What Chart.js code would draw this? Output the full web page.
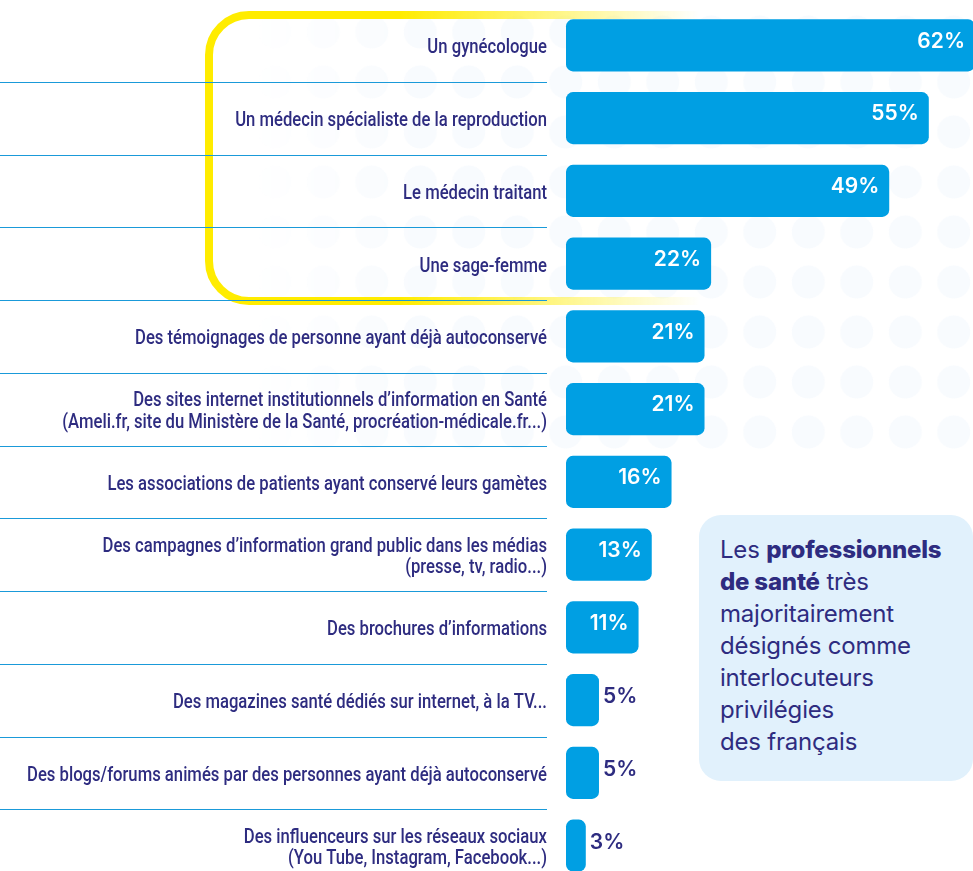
<!DOCTYPE html>
<html lang="fr">
<head>
<meta charset="utf-8">
<script src="https://cdn.jsdelivr.net/npm/chart.js@4/dist/chart.umd.min.js"></script>
<style>
  html, body { margin: 0; padding: 0; background: #ffffff; overflow: hidden; }
  #wrap { position: relative; width: 973px; height: 890px; }
  #dots {
    position: absolute; left: 0; top: 0; width: 973px; height: 460px;
    background-image: radial-gradient(circle, #f8fbfe 16px, rgba(255,255,255,0) 17px);
    background-size: 48.5px 50px;
    background-position: 8px 7px;
    -webkit-mask-image: linear-gradient(to right, rgba(0,0,0,0) 250px, #000 420px);
    mask-image: linear-gradient(to right, rgba(0,0,0,0) 250px, #000 420px);
  }
  #chart { position: relative; }
  #callout {
    position: absolute; left: 699px; top: 515px; width: 274px; height: 266px;
    background: #e1f1fc; border-radius: 22px; box-sizing: border-box;
    padding: 19px 0 0 21px;
    font-family: Inter, sans-serif; font-size: 24px; line-height: 32px; color: #2e2c80;
    letter-spacing: -0.2px;
  }
  #callout b { font-weight: 800; }
</style>
</head>
<body>
<div id="wrap">
  <div id="dots"></div>
  <canvas id="chart"></canvas>
  <div id="callout">Les <b>professionnels</b><br><b>de santé</b> très<br>majoritairement<br>désignés comme<br>interlocuteurs<br>privilégies<br>des français</div>
</div>
<script>
// Données du graphique
const categories = [
    'Un gynécologue',
    'Un médecin spécialiste de la reproduction',
    'Le médecin traitant',
    'Une sage-femme',
    'Des témoignages de personne ayant déjà autoconservé',
    ['Des sites internet institutionnels d’information en Santé', '(Ameli.fr, site du Ministère de la Santé, procréation-médicale.fr...)'],
    'Les associations de patients ayant conservé leurs gamètes',
    ['Des campagnes d’information grand public dans les médias', '(presse, tv, radio...)'],
    'Des brochures d’informations',
    'Des magazines santé dédiés sur internet, à la TV...',
    'Des blogs/forums animés par des personnes ayant déjà autoconservé',
    ['Des influenceurs sur les réseaux sociaux', '(You Tube, Instagram, Facebook...)']
];
const values = [62, 55, 49, 22, 21, 21, 16, 13, 11, 5, 5, 3];
// Nombre de lignes encadrées en jaune
const highlightedRows = 4;

const navy = '#2e2c80';
const barBlue = '#009fe3';

// Cadre jaune autour des professionnels de santé
const yellowFrame = {
    id: 'yellowFrame',
    beforeDatasetsDraw(chart) {
        const ctx = chart.ctx;
        const y = chart.scales.y;
        const half = (y.getPixelForValue(1) - y.getPixelForValue(0)) / 2;
        const top = y.getPixelForValue(0) - half + 6;
        const bottom = y.getPixelForValue(highlightedRows - 1) + half + 1;
        const left = 209, right = 1100, r = 40;
        const grad = ctx.createLinearGradient(400, 0, 700, 0);
        grad.addColorStop(0, 'rgba(255,236,0,1)');
        grad.addColorStop(1, 'rgba(255,236,0,0)');
        ctx.save();
        ctx.beginPath();
        ctx.moveTo(right, top);
        ctx.lineTo(left + r, top);
        ctx.arcTo(left, top, left, top + r, r);
        ctx.lineTo(left, bottom - r);
        ctx.arcTo(left, bottom, left + r, bottom, r);
        ctx.lineTo(right, bottom);
        ctx.strokeStyle = grad;
        ctx.lineWidth = 8;
        ctx.stroke();
        ctx.restore();
    }
};

// Lignes de séparation et libellés des catégories (police condensée)
const categoryLabels = {
    id: 'categoryLabels',
    beforeDatasetsDraw(chart) {
        const ctx = chart.ctx;
        const y = chart.scales.y;
        ctx.save();
        ctx.strokeStyle = '#1a9ad9';
        ctx.lineWidth = 1.2;
        for (let i = 0; i < categories.length - 1; i++) {
            const yy = Math.round((y.getPixelForValue(i) + y.getPixelForValue(i + 1)) / 2) + 0.5;
            ctx.beginPath();
            ctx.moveTo(0, yy);
            ctx.lineTo(547, yy);
            ctx.stroke();
        }
        ctx.font = '500 20px Roboto, sans-serif';
        ctx.fillStyle = navy;
        ctx.textAlign = 'right';
        ctx.textBaseline = 'middle';
        // la ligne la plus longue mesure ~520 px dans l'original
        const sx = 520 / ctx.measureText(categories[10]).width;
        const right = y.right - 19;
        categories.forEach((lab, i) => {
            const lines = Array.isArray(lab) ? lab : [lab];
            const cy = y.getPixelForValue(i) + 3;
            lines.forEach((line, k) => {
                const ly = cy + (k - (lines.length - 1) / 2) * 21.5;
                ctx.save();
                ctx.translate(right, ly);
                ctx.scale(sx, 1);
                ctx.fillText(line, 0, 0);
                ctx.restore();
            });
        });
        ctx.restore();
    }
};

// Étiquettes de valeur
const valueLabels = {
    id: 'valueLabels',
    afterDatasetsDraw(chart) {
        const ctx = chart.ctx;
        const meta = chart.getDatasetMeta(0);
        ctx.save();
        ctx.font = '600 21px Inter, sans-serif';
        ctx.textBaseline = 'middle';
        meta.data.forEach((bar, i) => {
            const v = values[i];
            const txt = v + '%';
            if (v >= 8) {
                ctx.fillStyle = '#ffffff';
                ctx.textAlign = 'right';
                ctx.fillText(txt, bar.x - 10, bar.y - 4);
            } else {
                ctx.fillStyle = navy;
                ctx.textAlign = 'left';
                ctx.fillText(txt, bar.x + 4, bar.y - 3);
            }
        });
        ctx.restore();
    }
};

const ctx = document.getElementById('chart').getContext('2d');
new Chart(ctx, {
    type: 'bar',
    data: {
        labels: categories,
        datasets: [{
            data: values,
            backgroundColor: barBlue,
            borderRadius: 7,
            borderSkipped: false,
            barPercentage: 0.715,
            categoryPercentage: 1,
            clip: false
        }]
    },
    options: {
        indexAxis: 'y',
        responsive: true,
        maintainAspectRatio: false,
        animation: false,
        layout: { padding: { top: 9, bottom: 8, left: 0, right: 0 } },
        plugins: {
            legend: { display: false },
            tooltip: { enabled: false }
        },
        scales: {
            x: {
                display: false,
                min: 0,
                max: 61.7
            },
            y: {
                afterFit(scale) {
                    scale.width = 566;
                    scale.paddingTop = 0;
                    scale.paddingBottom = 0;
                },
                grid: { display: false, drawTicks: false },
                border: { display: false },
                ticks: { display: false }
            }
        }
    },
    plugins: [yellowFrame, categoryLabels, valueLabels]
});
</script>
</body>
</html>
